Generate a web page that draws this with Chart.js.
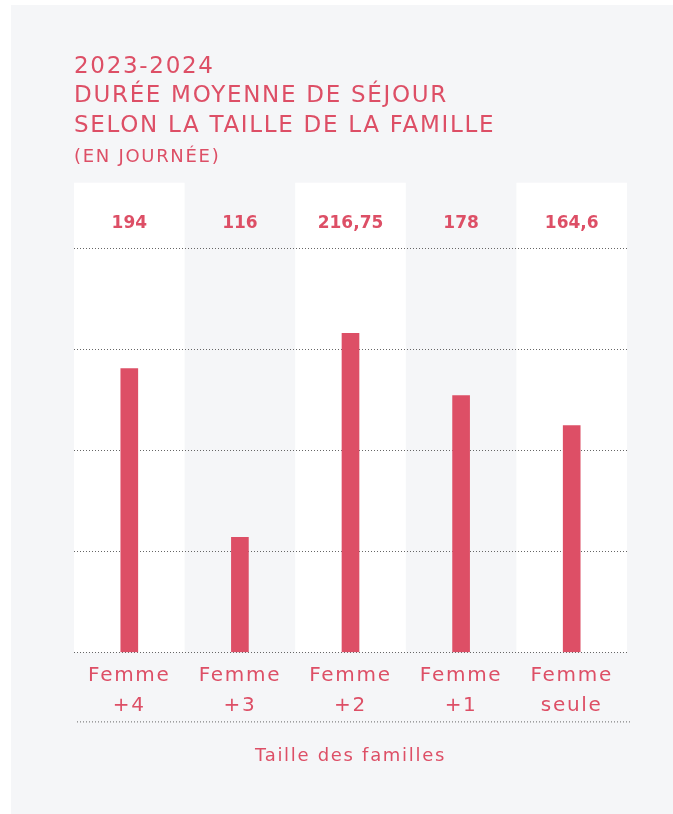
<!DOCTYPE html>
<html lang="fr">
<head>
<meta charset="utf-8">
<script src="https://cdn.jsdelivr.net/npm/chart.js@4/dist/chart.umd.min.js"></script>
<style>
  html, body { margin: 0; padding: 0; background: #ffffff; }
  #panel { position: absolute; left: 11px; top: 5px; right: 0; bottom: 0; background: #f5f6f8; }
  #wrap { position: absolute; left: 0; top: 0; width: 673px; height: 814px; }
</style>
</head>
<body>
<div id="panel"></div>
<div id="wrap"><canvas id="chart" width="673" height="814"></canvas></div>
<script>
const categories = [["Femme", "+4"], ["Femme", "+3"], ["Femme", "+2"], ["Femme", "+1"], ["Femme", "seule"]];
// valeurs affichées au-dessus des colonnes
const valeurs = ["194", "116", "216,75", "178", "164,6"];
// hauteurs des barres telles que dessinées dans l'image (en jours)
const hauteurs = [194, 78.6, 218, 175.6, 155];
const gridTicks = [0, 69, 138, 207, 276];

const ROSE = "#dd4f66";
const FONT = "'DejaVu Sans', sans-serif";
const SPACING = "1.7px";

const bandes = {
  id: "bandes",
  beforeUpdate(chart) {
    chart.ctx.letterSpacing = SPACING;
  },
  beforeDraw(chart) {
    const { ctx, chartArea, scales } = chart;
    ctx.letterSpacing = SPACING;
    const x = scales.x;
    const w = x.width / categories.length;
    ctx.save();
    ctx.fillStyle = "#ffffff";
    categories.forEach((c, i) => {
      if (i % 2 === 0) {
        const cx = x.getPixelForValue(i);
        ctx.fillRect(cx - w / 2, chartArea.top, w, chartArea.bottom - chartArea.top);
      }
    });
    ctx.restore();
  },
  afterDraw(chart) {
    const { ctx, chartArea, scales } = chart;
    const x = scales.x;
    ctx.save();
    // valeurs
    ctx.letterSpacing = "0px";
    ctx.fillStyle = ROSE;
    ctx.font = "bold 17px " + FONT;
    ctx.textAlign = "center";
    ctx.textBaseline = "middle";
    valeurs.forEach((v, i) => {
      ctx.fillText(v, x.getPixelForValue(i), chartArea.top + 41);
    });
    // ligne pointillée sous les étiquettes
    ctx.strokeStyle = "#666";
    ctx.lineWidth = 1;
    ctx.setLineDash([1, 2]);
    ctx.beginPath();
    ctx.moveTo(chartArea.left + 3, chartArea.bottom + 69.5);
    ctx.lineTo(chartArea.right + 3, chartArea.bottom + 69.5);
    ctx.stroke();
    ctx.restore();
  }
};

new Chart(document.getElementById("chart"), {
  type: "bar",
  data: {
    labels: categories,
    datasets: [{
      data: hauteurs,
      backgroundColor: ROSE,
      barThickness: 17
    }]
  },
  options: {
    responsive: false,
    animation: false,
    layout: { padding: { left: 74, right: 46, top: 52, bottom: 47 } },
    plugins: {
      legend: { display: false },
      tooltip: { enabled: false },
      title: {
        display: true,
        align: "start",
        text: ["2023-2024", "DURÉE MOYENNE DE SÉJOUR", "SELON LA TAILLE DE LA FAMILLE"],
        color: ROSE,
        font: { family: FONT, size: 23, weight: "normal", lineHeight: 1.28 },
        padding: { top: 0, bottom: 5 }
      },
      subtitle: {
        display: true,
        align: "start",
        text: "(EN JOURNÉE)",
        color: ROSE,
        font: { family: FONT, size: 18, weight: "normal", lineHeight: 1.3 },
        padding: { top: 0, bottom: 14 }
      }
    },
    scales: {
      x: {
        grid: { display: false, drawTicks: false },
        border: { display: false },
        ticks: {
          color: ROSE,
          padding: 8,
          maxRotation: 0,
          autoSkip: false,
          font: { family: FONT, size: 20, lineHeight: 1.5 }
        },
        title: {
          display: true,
          text: "Taille des familles",
          color: ROSE,
          font: { family: FONT, size: 18, lineHeight: 1.2 },
          padding: { top: 17, bottom: 0 }
        }
      },
      y: {
        min: 0,
        max: 321,
        afterBuildTicks: (scale) => { scale.ticks = gridTicks.map(v => ({ value: v })); },
        ticks: { display: false },
        grid: {
          drawTicks: false,
          color: "#666",
          lineWidth: 1
        },
        border: { display: false, dash: [1, 2] }
      }
    }
  },
  plugins: [bandes]
});
</script>
</body>
</html>
